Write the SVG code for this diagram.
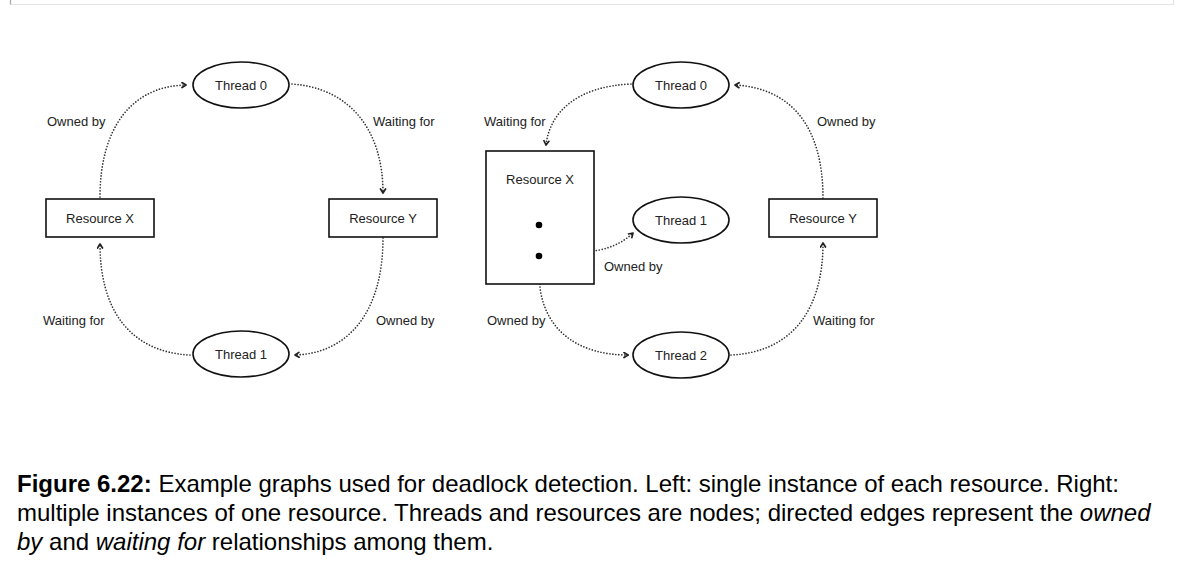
<svg xmlns="http://www.w3.org/2000/svg" width="1188" height="567" viewBox="0 0 1188 567">
<style>
.lbl{font-family:"Liberation Sans",Arial,sans-serif;font-size:13px;fill:#222;}
.node{fill:#fff;stroke:#111;stroke-width:1.6;}
.edge{fill:none;stroke:#333;stroke-width:1.7;stroke-dasharray:0 3;stroke-linecap:round;}
.cap{font-family:"Liberation Sans",Arial,sans-serif;font-size:24px;fill:#000;}
</style>
<defs>
<marker id="arr" markerWidth="8" markerHeight="8" refX="5" refY="3.5" orient="auto" markerUnits="userSpaceOnUse">
<path d="M1,1 L5,3.5 L1,6" fill="none" stroke="#222" stroke-width="1.7" stroke-linecap="round" stroke-linejoin="round"/>
</marker>
</defs>
<rect width="1188" height="567" fill="#fff"/>
<g id="frame">
<path d="M10.5,0 V4.5 H1173.5 V0" fill="none" stroke="#e4e4e4" stroke-width="1.2"/>
<line x1="10.5" y1="0" x2="10.5" y2="4.5" stroke="#aaa" stroke-width="1.2"/>
</g>
<g id="connectors">
<path class="edge" d="M100,197 C100,130 130,86 186,85" marker-end="url(#arr)"/>
<path class="edge" d="M292,84 C350,88 383,130 383,193" marker-end="url(#arr)"/>
<path class="edge" d="M383,238 C383,310 350,353 295,355" marker-end="url(#arr)"/>
<path class="edge" d="M190,355 C130,352 100,310 100,244" marker-end="url(#arr)"/>
<path class="edge" d="M631,84 C580,86 550,110 546,145" marker-end="url(#arr)"/>
<path class="edge" d="M823,198 C823,125 790,88 735,85" marker-end="url(#arr)"/>
<path class="edge" d="M541,230 C552,256 605,260 633,233" marker-end="url(#arr)"/>
<path class="edge" d="M540,260 L540,288 C546,332 580,355 628,355" marker-end="url(#arr)"/>
<path class="edge" d="M731,355 C792,352 823,310 823,243" marker-end="url(#arr)"/>
</g>
<g id="edge-labels">
<text class="lbl" x="47" y="126">Owned by</text>
<text class="lbl" x="373" y="126">Waiting for</text>
<text class="lbl" x="43" y="325">Waiting for</text>
<text class="lbl" x="376" y="325">Owned by</text>
<text class="lbl" x="484" y="126">Waiting for</text>
<text class="lbl" x="817" y="126">Owned by</text>
<text class="lbl" x="604" y="271">Owned by</text>
<text class="lbl" x="487" y="325">Owned by</text>
<text class="lbl" x="813" y="325">Waiting for</text>
</g>
<g id="L-thread0"><ellipse class="node" cx="241" cy="85" rx="48" ry="23"/><text class="lbl" x="241" y="90" text-anchor="middle">Thread 0</text></g>
<g id="L-resX"><rect class="node" x="46" y="199" width="108" height="38"/><text class="lbl" x="100" y="223" text-anchor="middle">Resource X</text></g>
<g id="L-resY"><rect class="node" x="329" y="199" width="108" height="38"/><text class="lbl" x="383" y="223" text-anchor="middle">Resource Y</text></g>
<g id="L-thread1"><ellipse class="node" cx="241" cy="354" rx="48" ry="23"/><text class="lbl" x="241" y="359" text-anchor="middle">Thread 1</text></g>
<g id="R-thread0"><ellipse class="node" cx="681" cy="85" rx="48" ry="23"/><text class="lbl" x="681" y="90" text-anchor="middle">Thread 0</text></g>
<g id="R-resX"><rect class="node" x="486" y="151" width="108" height="133"/><text class="lbl" x="540" y="184" text-anchor="middle">Resource X</text>
<circle cx="539" cy="225" r="3.3" fill="#000"/><circle cx="539" cy="256" r="3.3" fill="#000"/></g>
<g id="R-thread1"><ellipse class="node" cx="681" cy="220" rx="48" ry="23"/><text class="lbl" x="681" y="225" text-anchor="middle">Thread 1</text></g>
<g id="R-resY"><rect class="node" x="769" y="199" width="108" height="38"/><text class="lbl" x="823" y="223" text-anchor="middle">Resource Y</text></g>
<g id="R-thread2"><ellipse class="node" cx="681" cy="355" rx="48" ry="23"/><text class="lbl" x="681" y="360" text-anchor="middle">Thread 2</text></g>
<g id="caption">
<text class="cap" x="17" y="492"><tspan font-weight="bold">Figure 6.22:</tspan> Example graphs used for deadlock detection. Left: single instance of each resource. Right:</text>
<text class="cap" x="17" y="521">multiple instances of one resource. Threads and resources are nodes; directed edges represent the <tspan font-style="italic">owned</tspan></text>
<text class="cap" x="17" y="550"><tspan font-style="italic">by</tspan> and <tspan font-style="italic">waiting for</tspan> relationships among them.</text>
</g>
</svg>
